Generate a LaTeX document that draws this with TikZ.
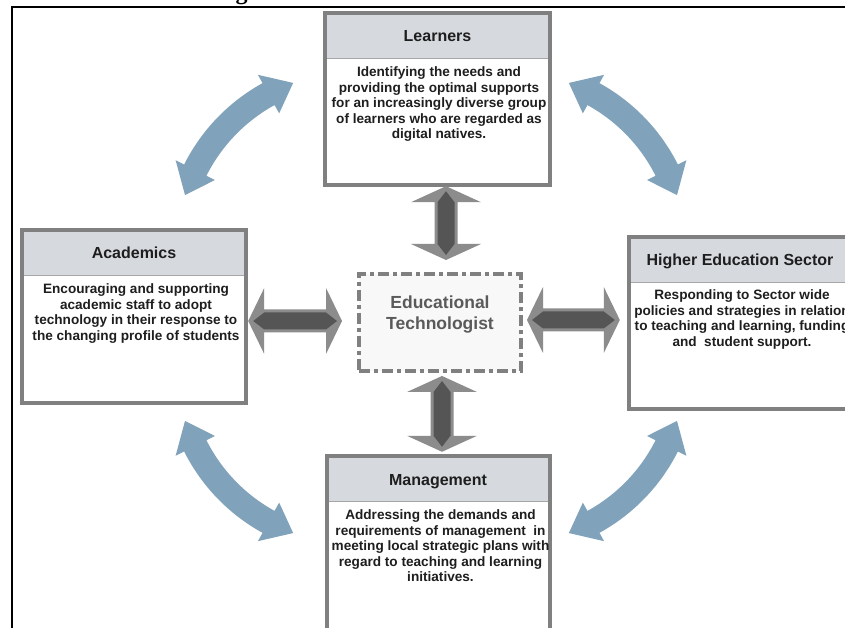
\documentclass[tikz,border=0pt]{standalone}
\usepackage{fontspec}
\setmainfont{Liberation Sans}
\newfontfamily\serifbold{Liberation Serif}
\usetikzlibrary{calc}
\definecolor{boxgray}{RGB}{128,128,128}
\definecolor{headfill}{RGB}{214,218,222}
\definecolor{curveblue}{RGB}{128,163,187}
\definecolor{arrowlight}{RGB}{140,140,140}
\definecolor{arrowdark}{RGB}{85,85,85}
\definecolor{textdark}{RGB}{30,30,30}
\definecolor{techtext}{RGB}{90,90,90}
\definecolor{techfill}{RGB}{248,248,248}

\newcommand\vdblarrow[2]{%
  \fill[arrowlight] let \p1=(#1), \p2=(#2) in
    (\x1,\y1) -- (\x1+35pt,\y1-16pt) -- (\x1+11.5pt,\y1-16pt) -- (\x1+11.5pt,\y2+16pt)
    -- (\x1+35pt,\y2+16pt) -- (\x1,\y2) -- (\x1-35pt,\y2+16pt) -- (\x1-11.5pt,\y2+16pt)
    -- (\x1-11.5pt,\y1-16pt) -- (\x1-35pt,\y1-16pt) -- cycle;
  \fill[arrowdark] let \p1=(#1), \p2=(#2) in
    (\x1,\y1-5pt) -- (\x1+8.5pt,\y1-16pt) -- (\x1+8.5pt,\y2+16pt) -- (\x1,\y2+5pt)
    -- (\x1-8.5pt,\y2+16pt) -- (\x1-8.5pt,\y1-16pt) -- cycle;
}
\newcommand\hdblarrow[2]{%
  \fill[arrowlight] let \p1=(#1), \p2=(#2) in
    (\x1,\y1) -- (\x1+16pt,\y1+33pt) -- (\x1+16pt,\y1+11.5pt) -- (\x2-16pt,\y1+11.5pt)
    -- (\x2-16pt,\y1+33pt) -- (\x2,\y1) -- (\x2-16pt,\y1-33pt) -- (\x2-16pt,\y1-11.5pt)
    -- (\x1+16pt,\y1-11.5pt) -- (\x1+16pt,\y1-33pt) -- cycle;
  \fill[arrowdark] let \p1=(#1), \p2=(#2) in
    (\x1+5pt,\y1) -- (\x1+16pt,\y1+8.5pt) -- (\x2-16pt,\y1+8.5pt) -- (\x2-5pt,\y1)
    -- (\x2-16pt,\y1-8.5pt) -- (\x1+16pt,\y1-8.5pt) -- cycle;
}
\newcommand\bluecurvearrow[4]{%
  \begin{scope}[shift={(#1,#2)}]
    \fill[curveblue] (#3:178) -- (#3+8.7:200) -- (#3+8.7:190.5)
      arc[start angle=#3+8.7, end angle=#4-8.7, radius=190.5]
      -- (#4-8.7:200) -- (#4:178) -- (#4-8.7:156) -- (#4-8.7:165.5)
      arc[start angle=#4-8.7, end angle=#3+8.7, radius=165.5]
      -- (#3+8.7:156) -- cycle;
  \end{scope}
}
\newcommand\panelframe[1]{%
  \fill[headfill] (#1.north west) rectangle ($(#1.north east)+(0,-46pt)$);
  \draw[headline] ($(#1.north west)+(0,-46pt)$) -- ($(#1.north east)+(0,-46pt)$);
  \draw[boxborder] (#1.north west) rectangle (#1.south east);
}

\begin{document}
\begin{tikzpicture}[x=1pt,y=1pt,
  boxbody/.style={rectangle, fill=white, inner sep=0pt},
  boxborder/.style={draw=boxgray, line width=4pt},
  headline/.style={draw=gray!70, line width=0.8pt},
  titletext/.style={font=\bfseries\fontsize{16}{19}\selectfont, text=textdark, inner sep=0pt, anchor=base},
  bodytext/.style={font=\bfseries\fontsize{13.6}{15.6}\selectfont, text=textdark, align=center, inner sep=0pt, anchor=north},
  techbox/.style={rectangle, fill=techfill, draw=boxgray, line width=4pt,
    dash pattern=on 11pt off 4pt on 4pt off 4pt, inner sep=0pt},
  techlabeltext/.style={font=\bfseries\fontsize{17.5}{21}\selectfont, text=techtext, align=center, inner sep=0pt},
  frameline/.style={draw=black, line width=2.2pt}
]
\useasboundingbox (0,0) rectangle (845,628);
\fill[white] (0,0) rectangle (845,628);

% frame lines and cut heading
\node[font=\serifbold\bfseries\fontsize{24}{24}\selectfont, anchor=base, inner sep=0pt] (headg) at (241.5,628) {g};
\coordinate (ftr) at (850,621);
\coordinate (ftl) at (12,621);
\coordinate (fbl) at (12,-5);
\draw[frameline] (ftr) -- (ftl) -- (fbl);

% curved arrows
\bluecurvearrow{354.3}{377.9}{110.1}{162.0}
\bluecurvearrow{507.7}{377.9}{18.0}{69.9}
\bluecurvearrow{354.3}{262.1}{198.0}{249.9}
\bluecurvearrow{507.7}{262.1}{290.1}{342.0}

% boxes
\node[boxbody, minimum width=225pt, minimum height=172pt] (learners) at (437.5,529) {};
\node[boxbody, minimum width=224pt, minimum height=173pt] (academics) at (134,311.5) {};
\node[boxbody, minimum width=229pt, minimum height=172pt] (higher) at (743.5,305) {};
\node[boxbody, minimum width=223pt, minimum height=176pt] (management) at (438.5,84) {};
\panelframe{learners}
\panelframe{academics}
\panelframe{higher}
\panelframe{management}

\node[techbox, minimum width=162pt, minimum height=97pt] (tech) at (440,305.5) {};
\node[techlabeltext] (techlabel) at (440,313.6) {Educational\\Technologist};

% titles
\node[titletext] (learnerstitle) at (437.5,586) {Learners};
\node[titletext] (academicstitle) at (134,369) {Academics};
\node[titletext] (highertitle) at (740,362) {Higher Education Sector};
\node[titletext] (managementtitle) at (438,142) {Management};

% body texts
\node[bodytext] (learnersbody) at (439,561.5) {Identifying the needs and\\providing the optimal supports\\for an increasingly diverse group\\of learners who are regarded as\\digital natives.};
\node[bodytext] (academicsbody) at (136,344.5) {Encouraging and supporting\\academic staff to adopt\\technology in their response to\\the changing profile of students};
\node[bodytext] (higherbody) at (742,338.5) {Responding to Sector wide\\policies and strategies in relation\\to teaching and learning, funding\\and\ \ student support.};
\node[bodytext] (managementbody) at (440.5,118.5) {Addressing the demands and\\requirements of management\ \ in\\meeting local strategic plans with\\regard to teaching and learning\\initiatives.};

% straight double arrows
\coordinate (ta1) at ($(learners.south -| tech.north)+(6pt,-1pt)$);
\coordinate (ta2) at ($(tech.north)+(6pt,12pt)$);
\coordinate (ba1) at ($(tech.south)+(2pt,-3pt)$);
\coordinate (ba2) at ($(management.north -| tech.south)+(2pt,4pt)$);
\coordinate (la1) at ($(academics.east |- tech.west)+(2pt,1.5pt)$);
\coordinate (la2) at ($(tech.west)+(-15pt,1.5pt)$);
\coordinate (ra1) at ($(tech.east)+(4pt,2.5pt)$);
\coordinate (ra2) at ($(higher.west |- tech.east)+(-9pt,2.5pt)$);
\vdblarrow{ta1}{ta2}
\vdblarrow{ba1}{ba2}
\hdblarrow{la1}{la2}
\hdblarrow{ra1}{ra2}
\end{tikzpicture}
\end{document}
